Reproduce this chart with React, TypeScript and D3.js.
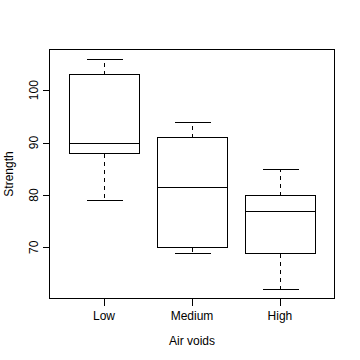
import React from "react";
import * as d3 from "d3";

const categories = ["Low", "Medium", "High"];
const whiskerLow = [79, 69, 62];
const q1 = [88, 70, 69];
const median = [90, 81.5, 77];
const q3 = [103, 91, 80];
const whiskerHigh = [106, 94, 85];
const yTicks = [70, 80, 90, 100];

const W = 360;
const H = 360;
const left = 49.5;
const right = 334.5;
const top = 49.5;
const bottom = 298.5;
const font = "'Liberation Sans', Arial, Helvetica, sans-serif";

export default function App() {
  const lo = d3.min(whiskerLow) as number;
  const hi = d3.max(whiskerHigh) as number;
  const pad = (hi - lo) * 0.04;
  const y = d3.scaleLinear().domain([lo - pad, hi + pad]).range([bottom, top]);
  const x = d3.scaleLinear().domain([0.38, 3.62]).range([left, right]);
  const r = (v: number) => Math.round(v) + 0.5;
  const bw = x(1.4) - x(1);
  const cw = x(1.2) - x(1);

  return (
    <svg width={W} height={H} style={{ position: "absolute", left: 0, top: 0, background: "#fff" }}>
      <rect x={0} y={0} width={W} height={H} fill="#fff" />
      <g stroke="#000" strokeWidth={1} fill="none" shapeRendering="crispEdges">
        {categories.map((c, i) => {
          const cx = r(x(i + 1));
          return (
            <g key={c}>
              <line x1={cx} x2={cx} y1={r(y(q3[i]))} y2={r(y(whiskerHigh[i]))} strokeDasharray="4,4" />
              <line x1={cx} x2={cx} y1={r(y(q1[i]))} y2={r(y(whiskerLow[i]))} strokeDasharray="4,4" />
              <line x1={r(x(i + 1) - cw)} x2={r(x(i + 1) + cw)} y1={r(y(whiskerHigh[i]))} y2={r(y(whiskerHigh[i]))} />
              <line x1={r(x(i + 1) - cw)} x2={r(x(i + 1) + cw)} y1={r(y(whiskerLow[i]))} y2={r(y(whiskerLow[i]))} />
              <rect
                x={r(x(i + 1) - bw)}
                y={r(y(q3[i]))}
                width={Math.round(2 * bw)}
                height={Math.round(y(q1[i]) - y(q3[i]))}
                fill="#fff"
              />
              <line x1={r(x(i + 1) - bw)} x2={r(x(i + 1) + bw)} y1={r(y(median[i]))} y2={r(y(median[i]))} />
              <line x1={cx} x2={cx} y1={bottom} y2={bottom + 7} />
            </g>
          );
        })}
        {yTicks.map((t) => (
          <line key={t} x1={left - 7} x2={left} y1={r(y(t))} y2={r(y(t))} />
        ))}
        <rect x={left} y={top} width={right - left} height={bottom - top} />
      </g>
      <g fontFamily={font} fontSize={12} fill="#000">
        {categories.map((c, i) => (
          <text key={c} x={x(i + 1)} y={320} textAnchor="middle">
            {c}
          </text>
        ))}
        {yTicks.map((t) => (
          <text key={t} transform={`translate(37.5,${y(t)}) rotate(-90)`} textAnchor="middle">
            {t}
          </text>
        ))}
        <text x={(left + right) / 2} y={345} textAnchor="middle">
          Air voids
        </text>
        <text transform={`translate(13,${(top + bottom) / 2}) rotate(-90)`} textAnchor="middle">
          Strength
        </text>
      </g>
    </svg>
  );
}
